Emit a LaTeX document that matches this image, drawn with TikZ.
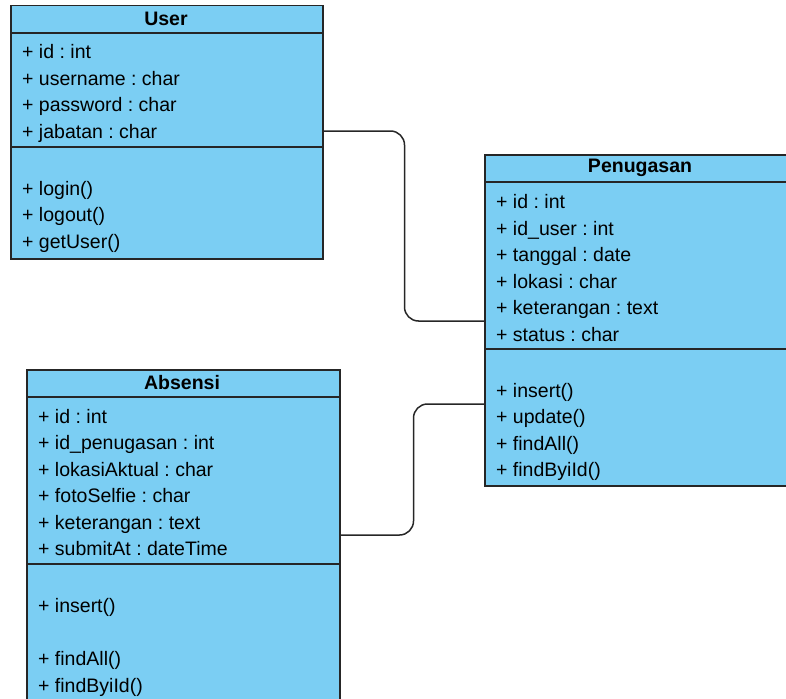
\documentclass[tikz,border=0pt]{standalone}
\usepackage{fontspec}
\setmainfont{Liberation Sans}
\frenchspacing
\definecolor{classfill}{HTML}{7BCEF3}
\definecolor{classline}{HTML}{262626}
\begin{document}
\begin{tikzpicture}[x=1pt,y=-1pt,
  classbox/.style={draw=classline, fill=classfill, line width=1.5pt,
    rectangle, inner sep=0pt, anchor=north west},
  member/.style={anchor=base west, inner sep=0pt,
    font=\fontsize{19.5}{23}\selectfont},
  title/.style={inner sep=0pt, font=\fontsize{19.5}{23}\selectfont\bfseries},
  divider/.style={draw=classline, line width=1.5pt},
  assoc/.style={draw=classline, line width=1.5pt, rounded corners=14pt}]
\useasboundingbox (0,0) rectangle (786,698);
\clip (0,0) rectangle (786,698);

% ---- User ----
\node[classbox, minimum width=312pt, minimum height=253pt] (user) at (10,5) {};
\draw[divider] ([yshift=-28pt]user.north west) -- ([yshift=-28pt]user.north east);
\draw[divider] ([yshift=-142pt]user.north west) -- ([yshift=-142pt]user.north east);
\node[title] (usert) at (166,19) {User};
\node[member] (u1) at (22,59) {+ id : int};
\node[member] (u2) at (22,86) {+ username : char};
\node[member] (u3) at (22,112) {+ password : char};
\node[member] (u4) at (22,138) {+ jabatan : char};
\node[member] (u5) at (22,195) {+ login()};
\node[member] (u6) at (22,221) {+ logout()};
\node[member] (u7) at (22,248) {+ getUser()};

% ---- Penugasan ----
\node[classbox, minimum width=312pt, minimum height=331pt] (pen) at (484,154) {};
\draw[divider] ([yshift=-28pt]pen.north west) -- ([yshift=-28pt]pen.north east);
\draw[divider] ([yshift=-195pt]pen.north west) -- ([yshift=-195pt]pen.north east);
\node[title] (pent) at (640,168) {Penugasan};
\node[member] (p1) at (496,208) {+ id : int};
\node[member] (p2) at (496,235) {+ id\_user : int};
\node[member] (p3) at (496,261) {+ tanggal : date};
\node[member] (p4) at (496,288) {+ lokasi : char};
\node[member] (p5) at (496,314) {+ keterangan : text};
\node[member] (p6) at (496,341) {+ status : char};
\node[member] (p7) at (496,397) {+ insert()};
\node[member] (p8) at (496,423) {+ update()};
\node[member] (p9) at (496,450) {+ findAll()};
\node[member] (p10) at (496,476) {+ findByiId()};

% ---- Absensi ----
\node[classbox, minimum width=313pt, minimum height=333pt] (abs) at (26,369) {};
\draw[divider] ([yshift=-28pt]abs.north west) -- ([yshift=-28pt]abs.north east);
\draw[divider] ([yshift=-195pt]abs.north west) -- ([yshift=-195pt]abs.north east);
\node[title] (abst) at (182,383) {Absensi};
\node[member] (a1) at (38,423) {+ id : int};
\node[member] (a2) at (38,449) {+ id\_penugasan : int};
\node[member] (a3) at (38,476) {+ lokasiAktual : char};
\node[member] (a4) at (38,502) {+ fotoSelfie : char};
\node[member] (a5) at (38,529) {+ keterangan : text};
\node[member] (a6) at (38,555) {+ submitAt : dateTime};
\node[member] (a7) at (38,612) {+ insert()};
\node[member] (a8) at (38,665) {+ findAll()};
\node[member] (a9) at (38,692) {+ findByiId()};

% ---- associations ----
\draw[assoc] ([yshift=-126pt]user.north east) -- ++(81,0)
  |- ([yshift=-167pt]pen.north west);
\draw[assoc] ([yshift=-166pt]abs.north east) -- ++(73,0)
  |- ([yshift=-250pt]pen.north west);
\end{tikzpicture}
\end{document}
